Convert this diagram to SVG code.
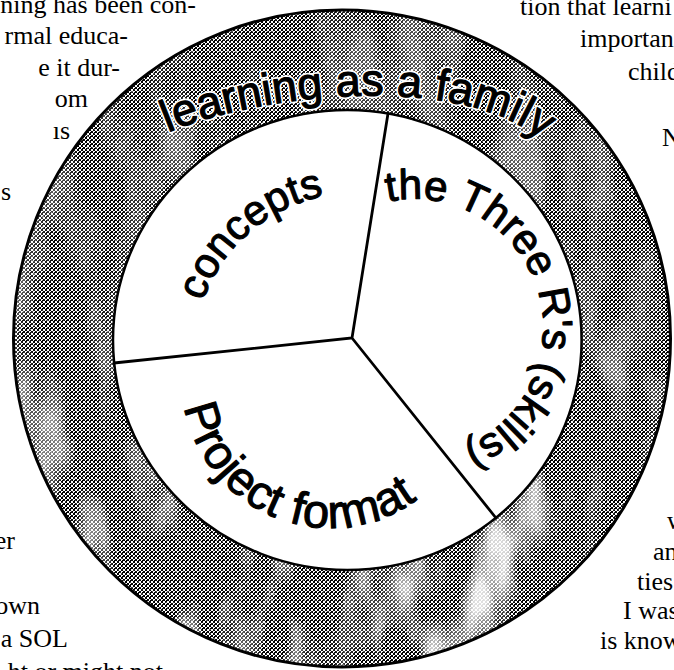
<svg xmlns="http://www.w3.org/2000/svg" width="674" height="670" viewBox="0 0 674 670">
<style>
.page{font-family:"Liberation Serif","Times New Roman",serif;font-size:26px;fill:#000}
.lbl{font-family:"Liberation Sans",Arial,sans-serif;fill:#000;stroke:#000;stroke-width:1.1px;stroke-linejoin:round}
.ringhalo{font-family:"Liberation Sans",Arial,sans-serif;font-size:45px;fill:#fff;stroke:#fff;stroke-width:4.5px;stroke-linejoin:round}
.ringlbl{font-family:"Liberation Sans",Arial,sans-serif;font-size:45px;fill:#000;stroke:#000;stroke-width:1.2px;stroke-linejoin:round}
.edge{stroke:#000;fill:none;stroke-linecap:round}
.sector{fill:#fff;stroke:none}
</style>
<defs>
<pattern id="hatch" width="4" height="4" patternUnits="userSpaceOnUse">
<rect width="4" height="4" fill="#fff"/>
<path d="M0 0h1v1H0zM1 1h1v1H1zM2 2h1v1H2zM3 3h1v1H3zM3 0h1v1H3zM2 1h1v1H2zM1 2h1v1H1zM0 3h1v1H0zM2 0h1v1H2z" fill="#000"/>
</pattern>
<filter id="blot" x="0" y="0" width="674" height="670" filterUnits="userSpaceOnUse">
<feTurbulence type="fractalNoise" baseFrequency="0.02 0.008" numOctaves="3" seed="7"/>
<feColorMatrix type="matrix" values="0 0 0 0 1 0 0 0 0 1 0 0 0 0 1 3.4 0 0 0 -1.5"/>
</filter>
<filter id="speck" x="0" y="0" width="674" height="670" filterUnits="userSpaceOnUse">
<feTurbulence type="fractalNoise" baseFrequency="0.45" numOctaves="1" seed="3"/>
<feColorMatrix type="matrix" values="0 0 0 0 1 0 0 0 0 1 0 0 0 0 1 4 0 0 0 -2.3"/>
</filter>
<linearGradient id="fade" x1="0" y1="0" x2="0" y2="1">
<stop offset="0" stop-color="#555"/>
<stop offset="0.5" stop-color="#7a7a7a"/>
<stop offset="0.8" stop-color="#eee"/>
<stop offset="1" stop-color="#fff"/>
</linearGradient>
<mask id="ringMask" maskUnits="userSpaceOnUse" x="0" y="0" width="674" height="670">
<path fill="url(#fade)" fill-rule="evenodd" d="M13.5 338.5a328.5 328.5 0 1 0 657 0a328.5 328.5 0 1 0 -657 0ZM113 340a234.3 230 0 1 0 468.6 0a234.3 230 0 1 0 -468.6 0Z"/>
</mask>
<mask id="ringMask2" maskUnits="userSpaceOnUse" x="0" y="0" width="674" height="670">
<path fill="#fff" fill-rule="evenodd" d="M13.5 338.5a328.5 328.5 0 1 0 657 0a328.5 328.5 0 1 0 -657 0ZM113 340a234.3 230 0 1 0 468.6 0a234.3 230 0 1 0 -468.6 0Z"/>
</mask>
<path id="pRing" d="M162 135C247 97 455 66 548 144"/>
<path id="pConcepts" d="M197 384.7A161 161 0 0 1 407.4 201.8"/>
<path id="pThree" d="M319.4 240.4A129 129 0 1 1 385.4 453.8"/>
<path id="pProject" d="M203.8 302.7A148 148 0 1 0 475 409.5"/>
</defs>

<rect width="674" height="670" fill="#fff"/>

<g id="page-text" class="page">
<text x="196" y="13" text-anchor="end">ning has been con-</text>
<text x="128" y="44" text-anchor="end">rmal educa-</text>
<text x="120" y="76" text-anchor="end">e it dur-</text>
<text x="88" y="107" text-anchor="end">om</text>
<text x="70" y="139" text-anchor="end">ıs</text>
<text x="11" y="200" text-anchor="end">s</text>
<text x="15" y="549" text-anchor="end">er</text>
<text x="40" y="614" text-anchor="end">own</text>
<text x="68" y="647" text-anchor="end">a SOL</text>
<text x="163" y="680" text-anchor="end">ht or might not</text>
<text x="520" y="15">tion that learni</text>
<text x="580" y="47">importan</text>
<text x="628" y="80">child</text>
<text x="662" y="146">N</text>
<text x="667" y="529">w</text>
<text x="653" y="560">an</text>
<text x="637" y="590">ties</text>
<text x="623" y="619">I was</text>
<text x="600" y="649">is know</text>
</g>

<g id="ring-learning-as-a-family">
<path fill="url(#hatch)" fill-rule="evenodd" d="M13.5 338.5a328.5 328.5 0 1 0 657 0a328.5 328.5 0 1 0 -657 0ZM113 340a234.3 230 0 1 0 468.6 0a234.3 230 0 1 0 -468.6 0Z"/>
<g mask="url(#ringMask2)"><rect width="674" height="670" filter="url(#speck)" opacity="0.6"/></g>
<g mask="url(#ringMask)"><rect width="674" height="670" filter="url(#blot)" opacity="0.9"/></g>
<circle cx="342" cy="338.5" r="328.5" fill="none" stroke="#000" stroke-width="3"/>
<text class="ringhalo"><textPath href="#pRing" startOffset="50%" text-anchor="middle">learning as a family</textPath></text>
<text class="ringlbl"><textPath href="#pRing" startOffset="50%" text-anchor="middle">learning as a family</textPath></text>
</g>

<g id="sector-concepts">
<path class="sector" d="M352 338L114 363A234.3 230 0 0 1 388 113.5Z"/>
<text class="lbl" font-size="42"><textPath href="#pConcepts" startOffset="50%" text-anchor="middle">concepts</textPath></text>
</g>

<g id="sector-three-rs">
<path class="sector" d="M352 338L388 113.5A234.3 230 0 0 1 496 518Z"/>
<text class="lbl" font-size="42"><textPath href="#pThree" startOffset="50%" text-anchor="middle">the Three R's (skills)</textPath></text>
</g>

<g id="sector-project-format">
<path class="sector" d="M352 338L496 518A234.3 230 0 0 1 114 363Z"/>
<text class="lbl" font-size="47" letter-spacing="0.5"><textPath href="#pProject" startOffset="50%" text-anchor="middle">Project format</textPath></text>
</g>

<g id="connectors">
<ellipse cx="347.3" cy="340" rx="234.3" ry="230" class="edge" stroke-width="2.5"/>
<path class="edge" stroke-width="2.8" d="M388 113.5L352 338L114 363M352 338L496 518"/>
</g>
</svg>
